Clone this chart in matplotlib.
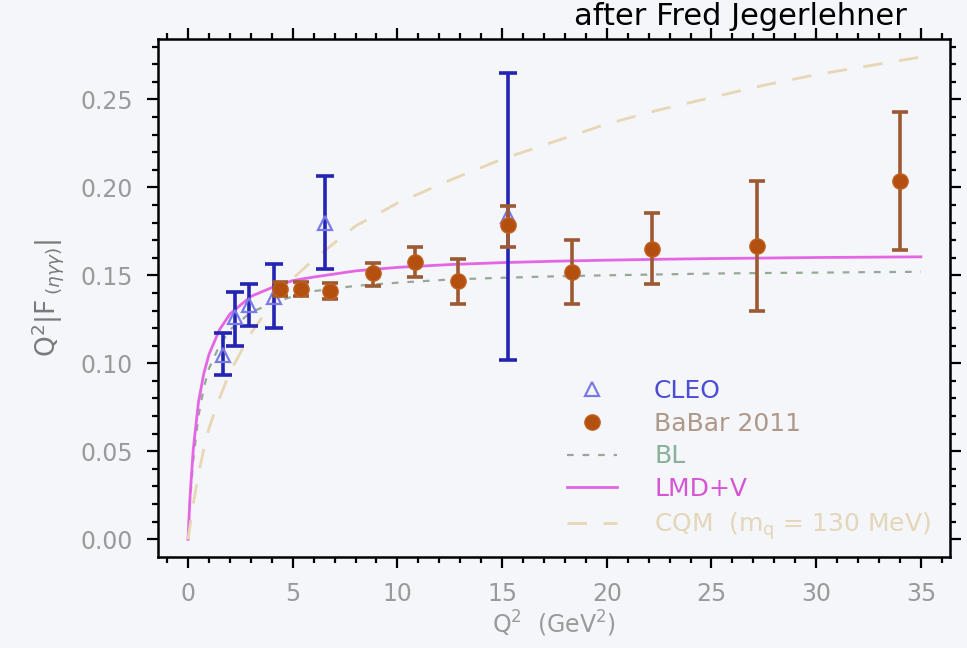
import matplotlib
matplotlib.use("Agg")
import matplotlib.pyplot as plt
from matplotlib.ticker import MultipleLocator

# ---- data ----
cleo_q2 = [1.68, 2.24, 2.93, 4.10, 6.54, 15.3]
cleo_val = [0.1047, 0.1265, 0.1331, 0.1378, 0.1795, 0.1835]
cleo_lo = [0.0934, 0.1098, 0.1212, 0.1199, 0.1536, 0.1019]
cleo_hi = [0.1170, 0.1407, 0.1451, 0.1562, 0.2066, 0.2650]

babar_q2 = [4.39, 5.41, 6.78, 8.85, 10.84, 12.89, 15.28, 18.34, 22.15, 27.18, 34.0]
babar_val = [0.1420, 0.1420, 0.1413, 0.1511, 0.1577, 0.1470, 0.1786, 0.1520, 0.1648, 0.1666, 0.2037]
babar_lo = [0.1380, 0.1380, 0.1368, 0.1440, 0.1490, 0.1337, 0.1660, 0.1337, 0.1450, 0.1300, 0.1644]
babar_hi = [0.1460, 0.1460, 0.1458, 0.1570, 0.1660, 0.1590, 0.1896, 0.1700, 0.1856, 0.2037, 0.2430]

curve_q2 = [0, 0.1, 0.25, 0.5, 0.75, 1.0, 1.5, 2, 3, 4, 5, 6, 8, 10, 12.5, 15, 17.5, 20,
            22.5, 25, 27.5, 30, 32.5, 35]
bl_val = [0, 0.022, 0.045, 0.070, 0.086, 0.097, 0.110, 0.119, 0.129, 0.134, 0.138, 0.141,
          0.144, 0.1458, 0.1476, 0.1486, 0.1494, 0.1500, 0.1505, 0.1510, 0.1513, 0.1515,
          0.1518, 0.1520]
lmd_val = [0, 0.025, 0.051, 0.078, 0.094, 0.105, 0.119, 0.128, 0.138, 0.143, 0.147, 0.149,
           0.1525, 0.1545, 0.1561, 0.1572, 0.1580, 0.1586, 0.1591, 0.1595, 0.1598, 0.1601,
           0.1603, 0.1605]
cqm_val = [0, 0.008, 0.020, 0.037, 0.051, 0.063, 0.080, 0.095, 0.117, 0.134, 0.148, 0.159,
           0.178, 0.191, 0.204, 0.216, 0.226, 0.236, 0.244, 0.251, 0.258, 0.264, 0.269, 0.274]

x_ticks = [0, 5, 10, 15, 20, 25, 30, 35]
y_ticks = [0.00, 0.05, 0.10, 0.15, 0.20, 0.25]
y_ticklabels = ["0.00", "0.05", "0.10", "0.15", "0.20", "0.25"]

title_text = "after Fred Jegerlehner"
xlabel_text = r"Q$^2$  (GeV$^2$)"
ylabel_text = r"Q$^2$|F$\,_{(\eta\gamma\gamma)}$|"
legend_labels = ["CLEO", "BaBar 2011", "BL", "LMD+V", r"CQM  (m$_\mathregular{q}$ = 130 MeV)"]

# ---- style ----
bg = "#f4f6fa"
grey = "#9a9a9a"
plt.rcParams["font.family"] = ["DejaVu Sans"]

fig = plt.figure(figsize=(9.67, 6.48), dpi=100, facecolor=bg)
ax = fig.add_axes([0.1634, 0.1409, 0.819, 0.799])
ax.set_facecolor(bg)

l_bl, = ax.plot(curve_q2, bl_val, color="#98a898", lw=1.6, dashes=(3, 4), zorder=2)
l_lmd, = ax.plot(curve_q2, lmd_val, color="#e466e4", lw=2.0, zorder=2)
l_cqm, = ax.plot(curve_q2, cqm_val, color="#e8d6b4", lw=2.0, dashes=(7, 6), zorder=2)

cleo_err = [[v - lo for v, lo in zip(cleo_val, cleo_lo)], [hi - v for v, hi in zip(cleo_val, cleo_hi)]]
babar_err = [[v - lo for v, lo in zip(babar_val, babar_lo)], [hi - v for v, hi in zip(babar_val, babar_hi)]]

ax.errorbar(cleo_q2, cleo_val, yerr=cleo_err, fmt="none", ecolor="#2424b4", elinewidth=2.6,
            capsize=6.5, capthick=2.6, zorder=3)
h_cleo, = ax.plot(cleo_q2, cleo_val, ls="none", marker="^", ms=10, mfc="none",
                  mec="#7a7ae6", mew=1.6, zorder=4)
ax.errorbar(babar_q2, babar_val, yerr=babar_err, fmt="none", ecolor="#9c5a34", elinewidth=2.6,
            capsize=6, capthick=2.6, zorder=5)
h_babar, = ax.plot(babar_q2, babar_val, ls="none", marker="o", ms=11, mfc="#b4500f",
                   mec="#c06020", mew=1, zorder=6)

ax.set_xlim(-1.433, 36.39)
ax.set_ylim(-0.00989, 0.2843)
ax.set_xticks(x_ticks)
ax.set_yticks(y_ticks)
ax.set_yticklabels(y_ticklabels)
ax.xaxis.set_minor_locator(MultipleLocator(1))
ax.yaxis.set_minor_locator(MultipleLocator(0.01))
ax.tick_params(which="both", direction="out", top=True, right=True, colors="black",
               labelcolor=grey, labelsize=17, width=1.6)
ax.tick_params(which="major", length=8, pad=10)
ax.tick_params(which="minor", length=4)
for sp in ax.spines.values():
    sp.set_linewidth(1.8)
    sp.set_color("black")

ax.set_xlabel(xlabel_text, color=grey, fontsize=17, labelpad=2)
ax.set_ylabel(ylabel_text, color="#7a7a7a", fontsize=19, labelpad=10)

leg = ax.legend([h_cleo, h_babar, l_bl, l_lmd, l_cqm], legend_labels,
                loc="lower right", bbox_to_anchor=(0.995, 0.0), frameon=False,
                fontsize=18, handlelength=2.0, handletextpad=1.5, labelspacing=0.35,
                borderaxespad=0.2)
label_colors = ["#4c4cd4", "#b09888", "#88b09a", "#d456d4", "#e4d6b8"]
for t, c in zip(leg.get_texts(), label_colors):
    t.set_color(c)

fig.text(0.938, 0.997, title_text, fontsize=22, color="black", ha="right", va="top")

fig.savefig("out.png", dpi=100, facecolor=bg)
